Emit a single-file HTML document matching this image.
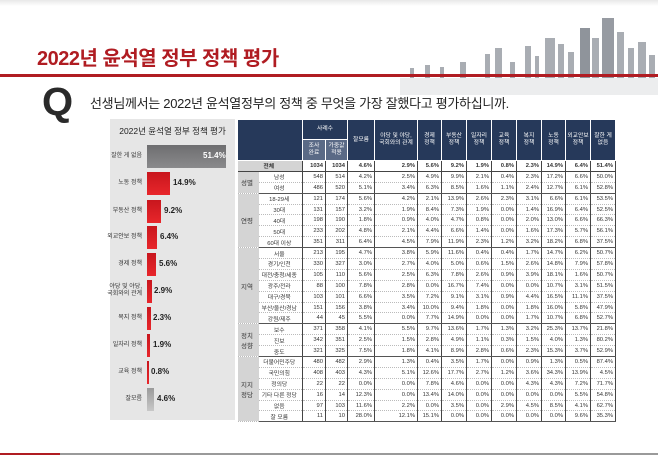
<!DOCTYPE html>
<html><head><meta charset="utf-8">
<style>
*{margin:0;padding:0;box-sizing:border-box}
body{width:658px;height:455px;background:#fff;position:relative;overflow:hidden;font-family:"Liberation Sans","Noto Sans CJK KR",sans-serif}
.abs{position:absolute}
#title{left:37px;top:42px;font-size:20px;color:#b01c22;font-weight:bold;letter-spacing:-0.5px;white-space:nowrap}
#q{left:90px;top:93px;font-size:13px;color:#222;white-space:nowrap;letter-spacing:-0.3px}
#Q{left:42px;top:80px;font-size:40px;font-weight:bold;color:#2a2a2a}
#panel{left:110px;top:119px;width:125px;height:301px;background:#e6e6e6}
.lbl{position:absolute;right:93px;font-size:6px;color:#333;text-align:right;line-height:7px;white-space:nowrap}
.bar{position:absolute;left:37px;height:23px;background:linear-gradient(#c8161d,#e8262b)}
.val{position:absolute;font-size:8px;font-weight:bold;color:#222;white-space:nowrap}
table{position:absolute;left:237px;top:119px;border-collapse:collapse;table-layout:fixed;font-size:5.8px;color:#333}
td,th{text-align:right;padding:0 2px 0 0;white-space:nowrap;overflow:hidden;height:10.9px;border-bottom:1px dotted #bbb;border-right:1px solid #444}
th{background:#26395a;color:#fff;font-weight:normal;text-align:center;border:1px solid #fff;padding:0;line-height:7px}
th.sub{background:#5a6a86}
td.g{background:#d4d4d4;text-align:center;border-right:none;font-size:6.5px}
td.l{text-align:center;background:#fff;border-right:1px solid #444}
tr.tot td{font-weight:bold;border-bottom:1px solid #444}
tr.tot td.l{background:#d4d4d4}
tr.sep td{border-bottom:1px solid #555}
</style></head><body>
<div class="abs" style="left:0;top:0;width:658px;height:6px;background:linear-gradient(#e8e8e8,#fff)"></div>
<svg class="abs" style="left:370px;top:10px" width="288" height="85">
<g fill="#a9adb3">
<rect x="40" y="58" width="4" height="10"/><rect x="55" y="55" width="5" height="13"/><rect x="70" y="57" width="4" height="11"/>
<rect x="90" y="52" width="6" height="16"/><rect x="115" y="44" width="5" height="24"/><rect x="125" y="38" width="7" height="30"/>
<rect x="140" y="52" width="5" height="16"/><rect x="155" y="36" width="6" height="32"/><rect x="165" y="46" width="4" height="22"/>
<rect x="175" y="28" width="10" height="40"/><rect x="188" y="34" width="6" height="34"/><rect x="198" y="42" width="6" height="26"/>
<rect x="210" y="18" width="10" height="50" fill="#8f949b"/><rect x="222" y="28" width="7" height="40"/><rect x="232" y="8" width="12" height="60" fill="#979ba2"/>
<rect x="247" y="22" width="7" height="46"/><rect x="258" y="38" width="6" height="30"/><rect x="268" y="32" width="8" height="36"/><rect x="279" y="45" width="6" height="23"/>
</g>
<rect x="30" y="68" width="258" height="17" fill="#dfe1e3" opacity=".6"/>
</svg>
<div id="title" class="abs">2022년 윤석열 정부 정책 평가</div>
<div class="abs" style="left:0;top:74px;width:658px;height:3px;background:#b01c22"></div>
<div id="Q" class="abs">Q</div>
<div id="q" class="abs">선생님께서는 2022년 윤석열정부의 정책 중 무엇을 가장 잘했다고 평가하십니까.</div>
<div id="panel" class="abs">
<div class="abs" style="left:0;width:125px;top:6px;text-align:center;font-size:8.5px;color:#222;white-space:nowrap">2022년 윤석열 정부 정책 평가</div>
<div class="lbl" style="top:34px">잘한 게 없음</div><div class="bar" style="top:26px;width:79px;background:linear-gradient(#6e6e70,#8a8a8c)"></div><div class="val" style="left:93px;top:32px;color:#fff">51.4%</div>
<div class="lbl" style="top:61px">노동 정책</div><div class="bar" style="top:53px;width:23px"></div><div class="val" style="left:63px;top:59px">14.9%</div>
<div class="lbl" style="top:89px">부동산 정책</div><div class="bar" style="top:81px;width:14px"></div><div class="val" style="left:54px;top:87px">9.2%</div>
<div class="lbl" style="top:115px">외교안보 정책</div><div class="bar" style="top:107px;width:10px"></div><div class="val" style="left:50px;top:113px">6.4%</div>
<div class="lbl" style="top:142px">경제 정책</div><div class="bar" style="top:134px;width:9px"></div><div class="val" style="left:49px;top:140px">5.6%</div>
<div class="lbl" style="top:165px">야당 및 야당,<br>국회와의 관계</div><div class="bar" style="top:161px;width:4.5px"></div><div class="val" style="left:44px;top:167px">2.9%</div>
<div class="lbl" style="top:196px">복지 정책</div><div class="bar" style="top:188px;width:3.5px"></div><div class="val" style="left:43px;top:194px">2.3%</div>
<div class="lbl" style="top:223px">일자리 정책</div><div class="bar" style="top:215px;width:3px"></div><div class="val" style="left:43px;top:221px">1.9%</div>
<div class="lbl" style="top:250px">교육 정책</div><div class="bar" style="top:242px;width:1.5px"></div><div class="val" style="left:41px;top:248px">0.8%</div>
<div class="lbl" style="top:277px">잘모름</div><div class="bar" style="top:269px;width:7px;background:linear-gradient(#9a9a9a,#c8c8c8)"></div><div class="val" style="left:47px;top:275px">4.6%</div>
</div>
<table>
<colgroup><col style="width:21px"><col style="width:44px"><col style="width:23px"><col style="width:22px"><col style="width:27px"><col style="width:43px"><col style="width:24px"><col style="width:25px"><col style="width:25px"><col style="width:25px"><col style="width:25px"><col style="width:24px"><col style="width:25px"><col style="width:25px"></colgroup>
<tr style="height:20px"><th colspan="2" rowspan="2" style="height:41px"></th><th colspan="2">사례수</th><th rowspan="2">잘모름</th><th rowspan="2">야당 및 야당,<br>국회와의 관계</th><th rowspan="2">경제<br>정책</th><th rowspan="2">부동산<br>정책</th><th rowspan="2">일자리<br>정책</th><th rowspan="2">교육<br>정책</th><th rowspan="2">복지<br>정책</th><th rowspan="2">노동<br>정책</th><th rowspan="2">외교안보<br>정책</th><th rowspan="2">잘한 게<br>없음</th></tr>
<tr style="height:21px"><th class="sub">조사<br>완료</th><th class="sub">가중값<br>적용</th></tr>
<tr class="tot"><td colspan="2" class="l">전체</td><td>1034</td><td>1034</td><td>4.6%</td><td>2.9%</td><td>5.6%</td><td>9.2%</td><td>1.9%</td><td>0.8%</td><td>2.3%</td><td>14.9%</td><td>6.4%</td><td>51.4%</td></tr>
<tr><td class="g" rowspan="2">성별</td><td class="l">남성</td><td>548</td><td>514</td><td>4.2%</td><td>2.5%</td><td>4.9%</td><td>9.9%</td><td>2.1%</td><td>0.4%</td><td>2.3%</td><td>17.2%</td><td>6.6%</td><td>50.0%</td></tr>
<tr class="sep"><td class="l">여성</td><td>486</td><td>520</td><td>5.1%</td><td>3.4%</td><td>6.3%</td><td>8.5%</td><td>1.6%</td><td>1.1%</td><td>2.4%</td><td>12.7%</td><td>6.1%</td><td>52.8%</td></tr>
<tr><td class="g" rowspan="5">연령</td><td class="l">18-29세</td><td>121</td><td>174</td><td>5.6%</td><td>4.2%</td><td>2.1%</td><td>13.9%</td><td>2.6%</td><td>2.3%</td><td>3.1%</td><td>6.6%</td><td>6.1%</td><td>53.5%</td></tr>
<tr><td class="l">30대</td><td>131</td><td>157</td><td>3.2%</td><td>1.9%</td><td>8.4%</td><td>7.3%</td><td>1.9%</td><td>0.0%</td><td>1.4%</td><td>16.9%</td><td>6.4%</td><td>52.5%</td></tr>
<tr><td class="l">40대</td><td>198</td><td>190</td><td>1.8%</td><td>0.9%</td><td>4.0%</td><td>4.7%</td><td>0.8%</td><td>0.0%</td><td>2.0%</td><td>13.0%</td><td>6.6%</td><td>66.3%</td></tr>
<tr><td class="l">50대</td><td>233</td><td>202</td><td>4.8%</td><td>2.1%</td><td>4.4%</td><td>6.6%</td><td>1.4%</td><td>0.0%</td><td>1.6%</td><td>17.3%</td><td>5.7%</td><td>56.1%</td></tr>
<tr class="sep"><td class="l">60대 이상</td><td>351</td><td>311</td><td>6.4%</td><td>4.5%</td><td>7.9%</td><td>11.9%</td><td>2.3%</td><td>1.2%</td><td>3.2%</td><td>18.2%</td><td>6.8%</td><td>37.5%</td></tr>
<tr><td class="g" rowspan="7">지역</td><td class="l">서울</td><td>213</td><td>195</td><td>4.7%</td><td>3.8%</td><td>5.9%</td><td>11.6%</td><td>0.4%</td><td>0.4%</td><td>1.7%</td><td>14.7%</td><td>6.2%</td><td>50.7%</td></tr>
<tr><td class="l">경기/인천</td><td>330</td><td>327</td><td>3.0%</td><td>2.7%</td><td>4.0%</td><td>5.0%</td><td>0.6%</td><td>1.5%</td><td>2.6%</td><td>14.8%</td><td>7.9%</td><td>57.8%</td></tr>
<tr><td class="l">대전/충청/세종</td><td>105</td><td>110</td><td>5.6%</td><td>2.5%</td><td>6.3%</td><td>7.8%</td><td>2.6%</td><td>0.9%</td><td>3.9%</td><td>18.1%</td><td>1.6%</td><td>50.7%</td></tr>
<tr><td class="l">광주/전라</td><td>88</td><td>100</td><td>7.8%</td><td>2.8%</td><td>0.0%</td><td>16.7%</td><td>7.4%</td><td>0.0%</td><td>0.0%</td><td>10.7%</td><td>3.1%</td><td>51.5%</td></tr>
<tr><td class="l">대구/경북</td><td>103</td><td>101</td><td>6.6%</td><td>3.5%</td><td>7.2%</td><td>9.1%</td><td>3.1%</td><td>0.9%</td><td>4.4%</td><td>16.5%</td><td>11.1%</td><td>37.5%</td></tr>
<tr><td class="l">부산/울산/경남</td><td>151</td><td>156</td><td>3.8%</td><td>3.4%</td><td>10.0%</td><td>9.4%</td><td>1.8%</td><td>0.0%</td><td>1.8%</td><td>16.0%</td><td>5.8%</td><td>47.9%</td></tr>
<tr class="sep"><td class="l">강원/제주</td><td>44</td><td>45</td><td>5.5%</td><td>0.0%</td><td>7.7%</td><td>14.9%</td><td>0.0%</td><td>0.0%</td><td>1.7%</td><td>10.7%</td><td>6.8%</td><td>52.7%</td></tr>
<tr><td class="g" rowspan="3">정치<br>성향</td><td class="l">보수</td><td>371</td><td>358</td><td>4.1%</td><td>5.5%</td><td>9.7%</td><td>13.6%</td><td>1.7%</td><td>1.3%</td><td>3.2%</td><td>25.3%</td><td>13.7%</td><td>21.8%</td></tr>
<tr><td class="l">진보</td><td>342</td><td>351</td><td>2.5%</td><td>1.5%</td><td>2.8%</td><td>4.9%</td><td>1.1%</td><td>0.3%</td><td>1.5%</td><td>4.0%</td><td>1.3%</td><td>80.2%</td></tr>
<tr class="sep"><td class="l">중도</td><td>321</td><td>325</td><td>7.5%</td><td>1.8%</td><td>4.1%</td><td>8.9%</td><td>2.8%</td><td>0.6%</td><td>2.3%</td><td>15.3%</td><td>3.7%</td><td>52.9%</td></tr>
<tr><td class="g" rowspan="6">지지<br>정당</td><td class="l">더불어민주당</td><td>480</td><td>482</td><td>2.9%</td><td>1.3%</td><td>0.4%</td><td>3.5%</td><td>1.7%</td><td>0.0%</td><td>0.9%</td><td>1.3%</td><td>0.5%</td><td>87.4%</td></tr>
<tr><td class="l">국민의힘</td><td>408</td><td>403</td><td>4.3%</td><td>5.1%</td><td>12.6%</td><td>17.7%</td><td>2.7%</td><td>1.2%</td><td>3.6%</td><td>34.3%</td><td>13.9%</td><td>4.5%</td></tr>
<tr><td class="l">정의당</td><td>22</td><td>22</td><td>0.0%</td><td>0.0%</td><td>7.8%</td><td>4.6%</td><td>0.0%</td><td>0.0%</td><td>4.3%</td><td>4.3%</td><td>7.2%</td><td>71.7%</td></tr>
<tr><td class="l">기타 다른 정당</td><td>16</td><td>14</td><td>12.3%</td><td>0.0%</td><td>13.4%</td><td>14.0%</td><td>0.0%</td><td>0.0%</td><td>0.0%</td><td>0.0%</td><td>5.5%</td><td>54.8%</td></tr>
<tr><td class="l">없음</td><td>97</td><td>103</td><td>11.6%</td><td>2.2%</td><td>0.0%</td><td>3.5%</td><td>0.0%</td><td>2.9%</td><td>4.5%</td><td>8.5%</td><td>4.1%</td><td>62.7%</td></tr>
<tr class="sep"><td class="l">잘 모름</td><td>11</td><td>10</td><td>28.0%</td><td>12.1%</td><td>15.1%</td><td>0.0%</td><td>0.0%</td><td>0.0%</td><td>0.0%</td><td>0.0%</td><td>9.6%</td><td>35.3%</td></tr>
</table>
<div class="abs" style="left:0;top:453px;width:658px;height:2px;background:#9a9a9a"></div>
<div class="abs" style="left:0;top:453px;width:60px;height:2px;background:#b01c22"></div>
</body></html>
